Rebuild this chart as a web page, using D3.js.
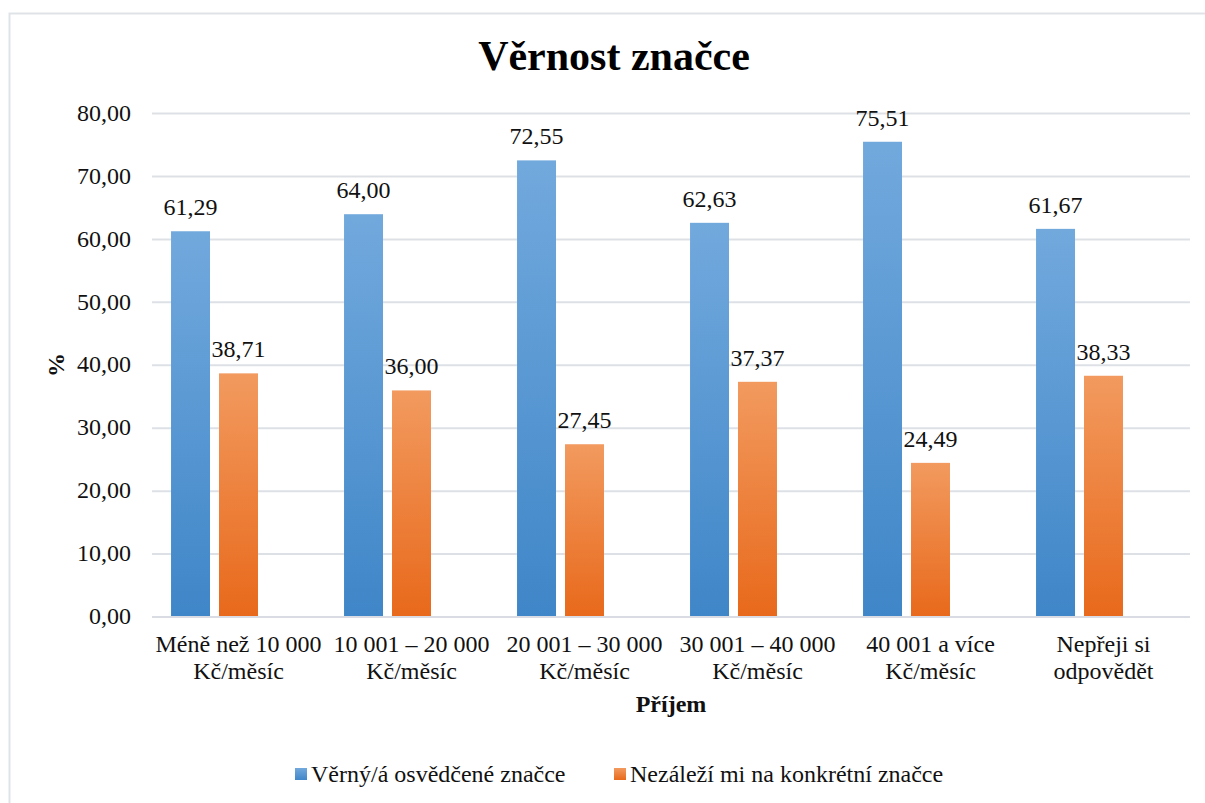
<!DOCTYPE html>
<html>
<head>
<meta charset="utf-8">
<script src="https://cdn.jsdelivr.net/npm/d3@7"></script>
<style>
  body { margin: 0; background: #fff; }
</style>
</head>
<body>
<svg width="1205" height="803"></svg>
<script>
// data
var categories = [
  ["Méně než 10 000", "Kč/měsíc"],
  ["10 001 – 20 000", "Kč/měsíc"],
  ["20 001 – 30 000", "Kč/měsíc"],
  ["30 001 – 40 000", "Kč/měsíc"],
  ["40 001 a více", "Kč/měsíc"],
  ["Nepřeji si", "odpovědět"]
];
var seriesNames = ["Věrný/á osvědčené značce", "Nezáleží mi na konkrétní značce"];
var loyal = [61.29, 64.00, 72.55, 62.63, 75.51, 61.67];
var indifferent = [38.71, 36.00, 27.45, 37.37, 24.49, 38.33];
var yTicks = [0, 10, 20, 30, 40, 50, 60, 70, 80];
// the source chart has a third (empty) series slot in each group
var slots = [0, 1, 2];

var serif = "Liberation Serif";

var svg = d3.select("svg"),
    width = +svg.attr("width"),
    height = +svg.attr("height");

var margin = {left: 152, right: 15, top: 113.5, bottom: 186};

var x0 = d3.scaleBand()
           .domain(d3.range(categories.length))
           .range([margin.left, width - margin.right])
           .paddingInner(0.22)
           .paddingOuter(0.11);

var x1 = d3.scaleBand()
           .domain(slots)
           .range([0, x0.bandwidth()])
           .paddingInner(0.1875);

var y = d3.scaleLinear()
          .domain([0, 80])
          .range([height - margin.bottom, margin.top]);

var fmt = v => d3.format(".2f")(v).replace(".", ",");

// chart frame
svg.append("path")
   .attr("d", `M9.5,${height}V13.5H${width}`)
   .attr("fill", "none")
   .attr("stroke", "#dfe3e8")
   .attr("stroke-width", 2);

// gradients
var defs = svg.append("defs");
var grads = [["gBlue", "#72a9dd", "#3f86c8"], ["gOrange", "#f29a5f", "#e8691b"]];
grads.forEach(g => {
  var lg = defs.append("linearGradient")
               .attr("id", g[0])
               .attr("x1", 0).attr("y1", 0)
               .attr("x2", 0).attr("y2", 1);
  lg.append("stop").attr("offset", "0%").attr("stop-color", g[1]);
  lg.append("stop").attr("offset", "100%").attr("stop-color", g[2]);
});

// gridlines
svg.append("g")
   .selectAll("line")
   .data(yTicks)
   .enter().append("line")
   .attr("x1", margin.left)
   .attr("x2", width - margin.right)
   .attr("y1", d => y(d))
   .attr("y2", d => y(d))
   .attr("stroke", "#dde1e6")
   .attr("stroke-width", 2);

// y axis labels
var yAxis = svg.append("g")
               .attr("transform", `translate(${margin.left - 21},0)`)
               .call(d3.axisLeft(y).tickValues(yTicks).tickFormat(fmt).tickSize(0).tickPadding(0));
yAxis.attr("font-family", serif);
yAxis.select(".domain").remove();
yAxis.selectAll("text")
     .attr("font-family", serif)
     .attr("font-size", 24)
     .attr("fill", "#111")
     .attr("dy", "0.28em");

// bars
var series = [loyal, indifferent];
var fills = ["url(#gBlue)", "url(#gOrange)"];

var groups = svg.append("g")
                .attr("font-family", serif)
                .selectAll("g")
                .data(categories)
                .enter().append("g")
                .attr("transform", (d, i) => `translate(${x0(i)},0)`);

groups.selectAll("rect")
      .data((d, i) => series.map((s, k) => ({k: k, v: s[i]})))
      .enter().append("rect")
      .attr("x", d => x1(d.k))
      .attr("width", x1.bandwidth())
      .attr("y", d => y(d.v))
      .attr("height", d => y(0) - y(d.v))
      .attr("fill", d => fills[d.k]);

groups.selectAll("text.val")
      .data((d, i) => series.map((s, k) => ({k: k, v: s[i]})))
      .enter().append("text")
      .attr("class", "val")
      .attr("x", d => x1(d.k) + x1.bandwidth() / 2)
      .attr("y", d => y(d.v) - 16)
      .attr("text-anchor", "middle")
      .attr("font-family", serif)
      .attr("font-size", 24)
      .attr("fill", "#111")
      .text(d => fmt(d.v));

// category labels
groups.append("text")
      .attr("x", x0.bandwidth() / 2)
      .attr("y", y(0) + 35)
      .attr("text-anchor", "middle")
      .attr("font-family", serif)
      .attr("font-size", 24)
      .attr("fill", "#111")
      .selectAll("tspan")
      .data(d => d)
      .enter().append("tspan")
      .attr("x", x0.bandwidth() / 2)
      .attr("dy", (d, i) => i ? 26.5 : 0)
      .text(d => d);

// x baseline
svg.append("line")
   .attr("x1", margin.left)
   .attr("x2", width - margin.right)
   .attr("y1", y(0))
   .attr("y2", y(0))
   .attr("stroke", "#d9dde3")
   .attr("stroke-width", 2);

// title
svg.append("text")
   .attr("x", 614)
   .attr("y", 70)
   .attr("text-anchor", "middle")
   .attr("font-family", serif)
   .attr("font-size", 42)
   .attr("font-weight", "bold")
   .attr("fill", "#000")
   .text("Věrnost značce");

// axis titles
svg.append("text")
   .attr("transform", `translate(64,365) rotate(-90)`)
   .attr("text-anchor", "middle")
   .attr("font-family", serif)
   .attr("font-size", 24)
   .attr("font-weight", "bold")
   .attr("fill", "#111")
   .text("%");

svg.append("text")
   .attr("x", (margin.left + width - margin.right) / 2)
   .attr("y", 712)
   .attr("text-anchor", "middle")
   .attr("font-family", serif)
   .attr("font-size", 24)
   .attr("font-weight", "bold")
   .attr("fill", "#111")
   .text("Příjem");

// legend
var legendX = [295, 614];
var legend = svg.append("g")
                .attr("font-family", serif)
                .selectAll("g")
                .data(seriesNames)
                .enter().append("g")
                .attr("transform", (d, i) => `translate(${legendX[i]},768)`);

legend.append("rect")
      .attr("width", 12)
      .attr("height", 12)
      .attr("y", 0)
      .attr("fill", (d, i) => fills[i]);

legend.append("text")
      .attr("x", 16)
      .attr("y", 14)
      .attr("font-family", serif)
      .attr("font-size", 24)
      .attr("fill", "#111")
      .text(d => d);
</script>
</body>
</html>
